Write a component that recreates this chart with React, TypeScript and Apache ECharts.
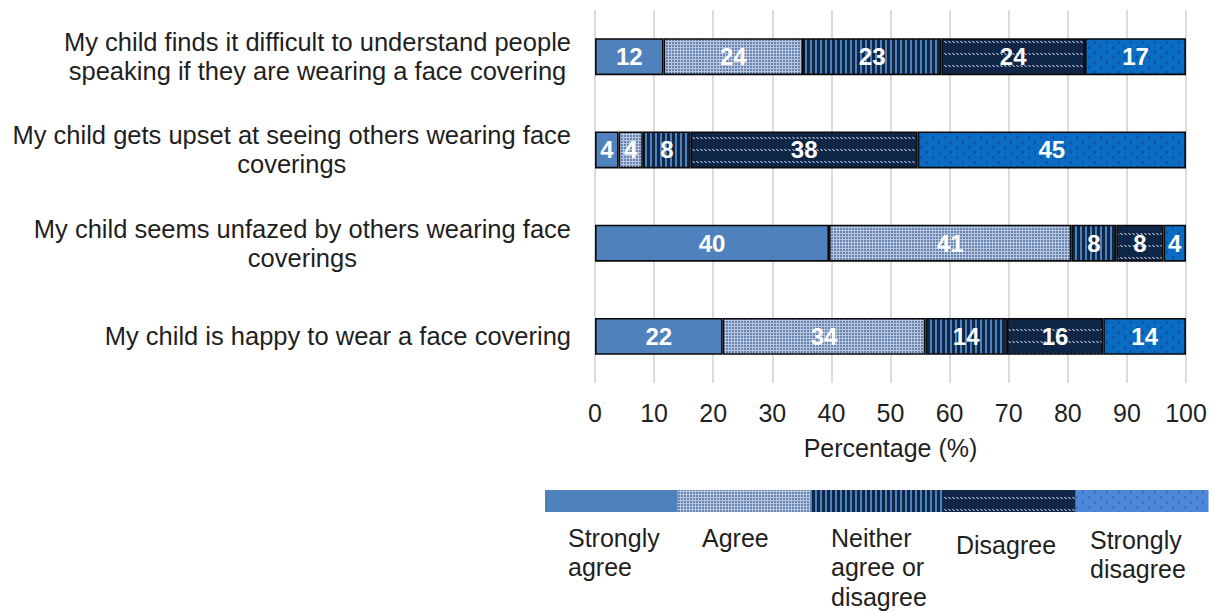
import React, { useEffect, useRef } from 'react';
import * as echarts from 'echarts';

const categories = [
  'My child finds it difficult to understand people\nspeaking if they are wearing a face covering',
  'My child gets upset at seeing others wearing face\ncoverings',
  'My child seems unfazed by others wearing face\ncoverings',
  'My child is happy to wear a face covering',
];
const seriesNames = ['Strongly agree', 'Agree', 'Neither agree or disagree', 'Disagree', 'Strongly disagree'];
const legendLabels = ['Strongly\nagree', 'Agree', 'Neither\nagree or\ndisagree', 'Disagree', 'Strongly\ndisagree'];
const stronglyAgree = [11.6, 4.0, 39.6, 21.6];
const agree = [23.6, 4.1, 41.0, 34.3];
const neither = [23.4, 8.1, 7.6, 13.8];
const disagree = [24.3, 38.4, 8.0, 16.3];
const stronglyDisagree = [17.1, 45.4, 3.8, 14.0];
const xMin = 0;
const xMax = 100;
const xStep = 10;
const axisTitle = 'Percentage (%)';

const FONT = '"Liberation Sans", Arial, sans-serif';

function tile(w: number, h: number, draw: (ctx: CanvasRenderingContext2D) => void) {
  const c = document.createElement('canvas');
  c.width = w;
  c.height = h;
  const ctx = c.getContext('2d')!;
  draw(ctx);
  return { image: c, repeat: 'repeat' as const };
}

function px(ctx: CanvasRenderingContext2D, color: string, pts: number[][]) {
  ctx.fillStyle = color;
  pts.forEach(([x, y]) => ctx.fillRect(x, y, 1, 1));
}

function makeFills(legend: boolean) {
  const solid = '#4F81BD';
  const agreeP = tile(3, 3, (ctx) => {
    ctx.fillStyle = '#B9C6DC';
    ctx.fillRect(0, 0, 3, 3);
    ctx.fillStyle = '#6584B4';
    ctx.fillRect(0, 0, 2, 2);
  });
  const neitherP = tile(5, 1, (ctx) => {
    ctx.fillStyle = '#0F2747';
    ctx.fillRect(0, 0, 5, 1);
    ctx.fillStyle = '#4F81BD';
    ctx.fillRect(0, 0, 2, 1);
  });
  const disagreeP = tile(4, 12, (ctx) => {
    ctx.fillStyle = '#102647';
    ctx.fillRect(0, 0, 4, 12);
    px(ctx, '#8494AC', [[0, 5], [1, 5], [1, 6], [2, 6]]);
  });
  const sdP = tile(12, 10, (ctx) => {
    ctx.fillStyle = legend ? '#4D87D8' : '#0A6BC2';
    ctx.fillRect(0, 0, 12, 10);
    const mark = legend ? '#2C5EA6' : '#0C3F80';
    px(ctx, mark, [[2, 1], [3, 2], [2, 3], [9, 6], [8, 7], [9, 8]]);
  });
  return [solid, agreeP, neitherP, disagreeP, sdP];
}

export default function App() {
  const ref = useRef<HTMLDivElement>(null);
  useEffect(() => {
    const chart = echarts.init(ref.current!, null, { renderer: 'svg' });
    const fills = makeFills(false);
    const legendFills = makeFills(true);
    const seriesData = [stronglyAgree, agree, neither, disagree, stronglyDisagree];

    const legendLeft = 545;
    const legendTop = 490;
    const segW = 132.6;
    const segH = 22;
    const labelX = [568, 702, 831, 956, 1090];
    const labelTop = [523, 523, 523, 530, 525];

    const graphic: any[] = [];
    seriesNames.forEach((_, i) => {
      graphic.push({
        type: 'rect',
        shape: { x: legendLeft + i * segW, y: legendTop, width: segW + 0.5, height: segH },
        style: { fill: legendFills[i] as any },
      });
    });
    legendLabels.forEach((lab, i) => {
      graphic.push({
        type: 'text',
        x: labelX[i],
        y: labelTop[i],
        style: {
          text: lab,
          align: 'left',
          verticalAlign: 'top',
          fontSize: 25,
          lineHeight: 29.5,
          fontFamily: FONT,
          fill: '#1f1f1f',
        },
      });
    });

    const option: any = {
      animation: false,
      grid: { left: 595, right: 27, top: 10, bottom: 229, containLabel: false },
      xAxis: {
        type: 'value',
        min: xMin,
        max: xMax,
        interval: xStep,
        axisLine: { show: false },
        axisTick: { show: false },
        splitLine: { show: true, lineStyle: { color: '#D3D3D3', width: 1.6 } },
        axisLabel: { fontSize: 25, fontFamily: FONT, color: '#1f1f1f', margin: 17 },
        name: axisTitle,
        nameLocation: 'middle',
        nameGap: 52,
        nameTextStyle: { fontSize: 25, fontFamily: FONT, color: '#1f1f1f' },
      },
      yAxis: {
        type: 'category',
        data: categories,
        inverse: true,
        axisLine: { show: false },
        axisTick: { show: false },
        splitLine: { show: false },
        axisLabel: {
          margin: 24,
          align: 'right',
          formatter: (v: string) => v.split('\n').map((l) => `{c|${l}}`).join('\n'),
          rich: {
            c: { align: 'center', fontSize: 25.5, lineHeight: 29, fontFamily: FONT, color: '#1f1f1f' },
          },
        },
      },
      series: seriesNames.map((name, i) => ({
        name,
        type: 'bar',
        stack: 'total',
        barWidth: 37,
        data: seriesData[i],
        itemStyle: { color: fills[i], borderColor: '#0a0a0a', borderWidth: 1.6 },
        label: {
          show: true,
          position: 'inside',
          color: '#ffffff',
          fontWeight: 'bold',
          fontSize: 24,
          fontFamily: FONT,
          formatter: (p: any) => String(Math.round(p.value)),
        },
      })),
      graphic,
    };
    chart.setOption(option);
    return () => chart.dispose();
  }, []);
  return (
    <div
      ref={ref}
      style={{ position: 'fixed', left: 0, top: 0, width: 1213, height: 612, background: '#ffffff' }}
    />
  );
}
